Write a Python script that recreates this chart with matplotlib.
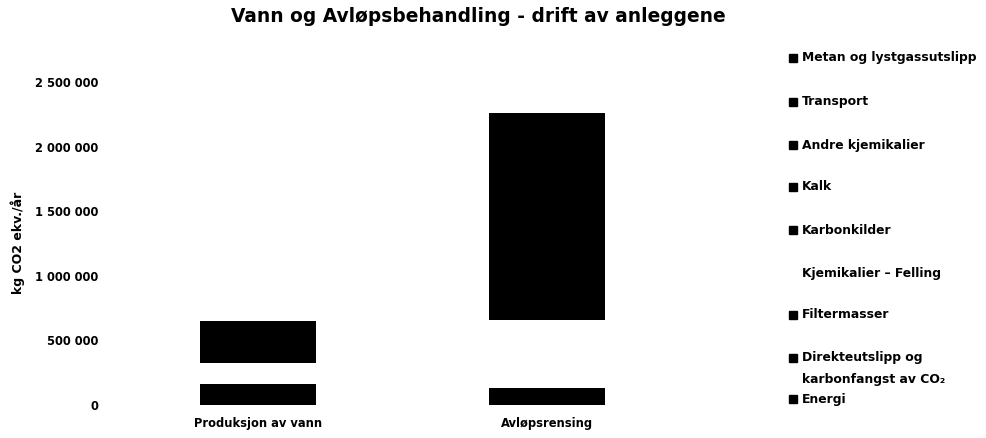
import matplotlib
matplotlib.use("Agg")
import matplotlib.pyplot as plt
from matplotlib.patches import Rectangle
from matplotlib.ticker import FuncFormatter

plt.rcParams['font.family'] = ['DejaVu Sans']
plt.rcParams['font.weight'] = 'bold'

categories = ["Produksjon av vann", "Avløpsrensing"]
# stacked bottom -> top
series_names = [
    "Energi",
    "Direkteutslipp og\nkarbonfangst av CO\u2082",
    "Filtermasser",
    "Kjemikalier \u2013 Felling",
    "Karbonkilder",
    "Kalk",
    "Andre kjemikalier",
    "Transport",
    "Metan og lystgassutslipp",
]
energi = [163000, 134000]
direkteutslipp = [0, 0]
filtermasser = [0, 0]
kjemikalier_felling = [160000, 524000]
karbonkilder = [0, 250000]
kalk = [150000, 50000]
andre_kjemikalier = [120000, 100000]
transport = [59000, 120000]
metan = [0, 1084000]
series_values = [energi, direkteutslipp, filtermasser, kjemikalier_felling,
                 karbonkilder, kalk, andre_kjemikalier, transport, metan]
series_colors = ["black", "black", "black", "white", "black", "black",
                 "black", "black", "black"]
yticks = [0, 500000, 1000000, 1500000, 2000000, 2500000]

W, H = 986, 438
fig = plt.figure(figsize=(W / 100, H / 100), dpi=100)
ax = fig.add_axes([113.5 / W, 33 / H, 578 / W, 323 / H])

x = list(range(len(categories)))
bottom = [0] * len(categories)
for name, vals, col in zip(series_names, series_values, series_colors):
    ax.bar(x, vals, width=0.4, bottom=bottom, color=col, label=name)
    bottom = [b + v for b, v in zip(bottom, vals)]

ax.set_xlim(-0.5, 1.5)
ax.set_ylim(0, 2500000)
ax.set_yticks(yticks)
ax.yaxis.set_major_formatter(FuncFormatter(lambda v, p: f"{v:,.0f}".replace(",", " ")))
ax.set_xticks(x)
ax.set_xticklabels(categories, fontsize=8.3)
ax.tick_params(axis='y', length=0, pad=11, labelsize=8.3)
ax.tick_params(axis='x', length=0, pad=9)
for s in ax.spines.values():
    s.set_visible(False)

fig.text(18 / W, 1 - 243 / H, "kg CO2 ekv./år", rotation=90, ha='center',
         va='center', fontsize=9)
fig.text(478 / W, 1 - 16 / H, "Vann og Avløpsbehandling - drift av anleggene",
         ha='center', va='center', fontsize=13.4, fontweight='bold')

# legend (top -> bottom)
leg_y = [58, 102, 145, 187, 230, 273, 315, 358, 399]
for name, col, yy in zip(series_names[::-1], series_colors[::-1], leg_y):
    if col != "white":
        fig.add_artist(Rectangle((789 / W, 1 - (yy + 4) / H), 8 / W, 8 / H,
                                 transform=fig.transFigure, color=col))
    for i, line in enumerate(name.split("\n")):
        fig.text(802 / W, 1 - (yy + 21 * i) / H, line, ha='left', va='center',
                 fontsize=8.9)

fig.savefig("out.png", dpi=100)
